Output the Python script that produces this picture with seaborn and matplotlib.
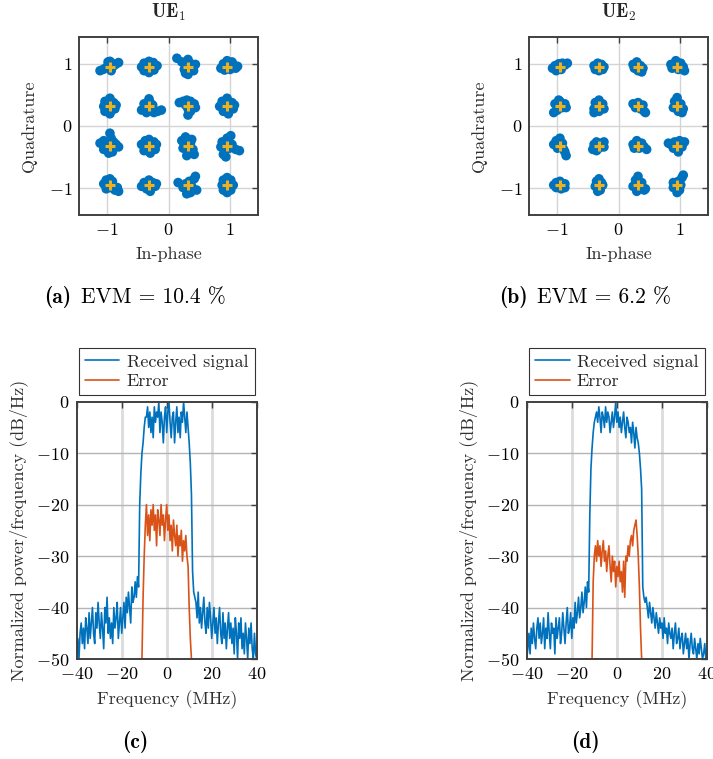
import numpy as np
import pandas as pd
import matplotlib
matplotlib.use("Agg")
import matplotlib.pyplot as plt
from matplotlib.offsetbox import TextArea, HPacker, AnchoredOffsetbox
import seaborn as sns

# ---------------- data ----------------
qam_levels = [-0.949, -0.316, 0.316, 0.949]   # 16-QAM reference levels (I and Q)

# hand-read offsets (in 0.01 units) of received symbols around each reference point,
# clusters ordered row by row (Q from +0.949 to -0.949), columns I from -0.949 to +0.949
ue1_offsets = [
    [(-16,-6),(-11,-4),(-6,-1),(-2,3),(0,-3),(3,6),(5,1),(9,4),(14,7),(-3,8),(0,9),(2,-6)],
    [(-12,0),(-8,6),(-8,-6),(0,9),(0,-9),(7,7),(8,-5),(13,2),(0,0),(-3,3),(4,-2)],
    [(-18,14),(-10,8),(-6,-4),(0,12),(0,-12),(5,5),(9,-6),(12,4),(-4,-10),(3,-2)],
    [(-10,-2),(-6,5),(0,10),(5,-4),(10,4),(14,-2),(17,1),(3,2),(-4,-5),(8,8)],
    [(-10,0),(-8,8),(-8,-8),(0,13),(0,-12),(6,6),(8,-4),(10,2),(-2,4),(3,-6)],
    [(-12,-6),(-8,4),(-4,-10),(0,12),(2,6),(4,-4),(8,-10),(14,-8),(20,-6),(-2,-2),(6,2)],
    [(-14,6),(-8,8),(-2,10),(4,8),(10,4),(12,-2),(0,-4),(4,-8),(0,-14),(-4,2),(6,-2)],
    [(-12,0),(-8,8),(-6,-8),(0,13),(2,-12),(8,6),(10,-4),(-2,2),(4,-4),(12,2)],
    [(-16,4),(-10,8),(-10,-6),(0,20),(2,12),(4,-10),(10,2),(14,-2),(-4,-2),(6,6),(-2,-12)],
    [(-12,2),(-8,-8),(-6,8),(0,10),(2,-12),(8,6),(10,-6),(12,2),(0,0),(-4,-4)],
    [(-10,8),(-8,-4),(-4,14),(0,-10),(4,4),(8,-6),(10,-14),(-2,-16),(6,10),(0,0)],
    [(-10,-2),(-8,6),(-4,-10),(-2,-18),(0,12),(6,16),(8,2),(14,-6),(20,-8),(4,-4),(-6,-14)],
    [(-10,2),(-6,8),(-6,-6),(0,-4),(4,6),(8,-8),(12,-4),(14,-10),(0,10),(-2,0)],
    [(-12,-2),(-8,4),(-4,-6),(0,8),(2,-10),(6,4),(10,-2),(12,2),(0,0)],
    [(-16,4),(-8,-4),(-4,2),(0,-10),(2,6),(6,-2),(10,10),(12,14),(14,-8),(-2,-14),(4,-12),(6,-8)],
    [(-8,0),(-6,8),(-6,-8),(0,12),(0,-12),(6,8),(6,-8),(10,0),(0,0),(2,-4)],
]
ue2_offsets = [
    [(-12,-2),(-8,2),(-6,-6),(-2,5),(2,-4),(4,6),(8,3),(12,6),(0,0)],
    [(-8,2),(-6,-4),(-2,6),(0,-6),(4,4),(6,-4),(8,0),(0,0)],
    [(-8,4),(-6,-2),(-2,8),(0,-6),(4,2),(6,-8),(8,-2),(0,0)],
    [(-10,4),(-8,-2),(-2,10),(2,-4),(6,6),(10,0),(12,-6),(0,2),(4,-2)],
    [(-8,4),(-10,-10),(-4,-6),(0,8),(4,-2),(8,4),(10,-2),(0,0),(-2,10)],
    [(-8,-4),(-6,6),(0,10),(0,-8),(6,4),(8,-4),(0,0),(-8,-10)],
    [(-8,4),(-4,-2),(0,6),(4,-4),(8,2),(10,-8),(12,-10),(0,0)],
    [(-6,-2),(-4,8),(0,14),(2,-8),(6,4),(8,-10),(10,-4),(0,0)],
    [(-10,2),(-6,8),(0,12),(4,4),(6,-6),(8,-10),(10,-16),(-4,-4),(0,0)],
    [(-10,-6),(-8,2),(-4,6),(0,-4),(4,4),(8,-2),(8,6),(0,0),(-4,-8)],
    [(-8,2),(-6,-4),(-2,8),(2,-4),(6,4),(10,-2),(14,-6),(0,0)],
    [(-14,4),(-10,2),(-4,6),(0,-4),(4,8),(8,4),(12,6),(2,-10),(-6,-4),(0,0),(8,-2)],
    [(-10,0),(-6,4),(-6,-4),(0,6),(2,-6),(8,2),(8,-4),(0,0)],
    [(-6,-2),(-4,6),(0,10),(2,-8),(6,0),(-2,-10),(0,0),(4,4)],
    [(-8,-2),(-4,8),(0,14),(0,-6),(6,-2),(10,-8),(-2,-10),(6,4),(12,-6)],
    [(-6,-4),(-6,4),(0,-12),(2,6),(6,0),(8,12),(10,16),(0,0),(4,-8)],
]

# spectra, sampled every 0.5 MHz
freq_start, freq_stop, freq_step = -40.0, 40.0, 0.5
err_start, err_stop = -11.0, 11.0

ue1_received = [
    -49,-46,-50,-45,-43,-47,-44,-48,-42,-44,-47,
    -41,-46,-43,-40,-45,-47,-41,-44,-39,-43,-46,-41,-44,-48,-40,-43,-38,-45,-42,-46,-43,-47,-40,-44,-42,-39,-46,-43,-40,-45,
    -42,-39,-44,-38,-41,-37,-40,-43,-36,-39,-38,-35,-38,-34,
    -36,-20,-14,-10,-8,-5,-3,
    -3,-1,-5,-2,-6,-3,-7,-1,-4,-2,-3,0,-6,-2,-4,-8,-3,-1,-6,-2,0,-4,-7,-3,-2,-8,-4,-1,-6,-3,-7,-2,-4,0,-3,-6,-2,
    -5,-8,-12,-18,-33,-37,-38,
    -39,-42,-37,-43,-40,-44,-41,-38,-43,-45,-40,-44,-39,-42,-46,-43,-40,-45,-42,-47,-43,-40,-45,-47,-41,-46,-43,-48,
    -44,-41,-46,-43,-47,-44,-49,-42,-45,-50,-43,-46,-42,-48,-45,-49,-43,-46,-50,-44,-47,-43,-48,-50,-45,-49,-50,
]
ue1_error = [
    -50,-38,-30,-24,-20,-26,-22,-27,-21,-24,-20,-25,-22,-28,-21,-23,-26,-20,-24,-22,-27,-23,-20,
    -25,-22,-27,-24,-29,-23,-26,-28,-24,-30,-26,-28,-25,-31,-27,-29,-26,-30,-32,-40,-46,-50,
]
ue2_received = [
    -50,-48,-45,-49,-44,-47,-43,-46,-48,-44,-42,
    -46,-43,-47,-45,-42,-48,-44,-46,-41,-45,-48,-43,-45,-44,-49,-42,-46,-44,-42,-47,-45,-41,-44,-47,-43,-40,-45,-44,-41,-46,
    -42,-44,-39,-43,-41,-38,-42,-40,-37,-41,-39,-36,-40,-35,
    -37,-22,-13,-9,-6,-4,-3,
    -2,-4,-1,-3,-6,-2,-3,-5,-1,-4,-2,-3,-6,-4,-2,-5,-3,0,-4,-2,-5,-3,-6,-4,-2,-5,-7,-3,-4,-6,-5,-8,-4,-6,-9,-5,-7,
    -8,-10,-13,-17,-36,-38,-39,
    -38,-40,-42,-39,-41,-43,-40,-42,-44,-41,-43,-45,-42,-44,-43,-46,-42,-45,-44,-47,-43,-45,-46,-44,-48,-45,-43,-47,
    -46,-44,-48,-46,-45,-49,-47,-45,-48,-46,-50,-47,-45,-48,-49,-46,-48,-50,-47,-49,-46,-48,-50,-49,-47,-50,-50,
]
ue2_error = [
    -50,-35,-30,-28,-31,-27,-30,-28,-32,-29,-27,-31,-29,-33,-30,-28,-32,-35,-30,-33,-31,-36,-32,
    -34,-31,-35,-33,-37,-31,-38,-30,-31,-28,-30,-27,-26,-28,-25,-24,-23,-26,-30,-36,-44,-50,
]

titles = [r"$\mathbf{UE}_1$", r"$\mathbf{UE}_2$"]
caption_tags = ["(a)", "(b)", "(c)", "(d)"]
caption_texts = ["EVM = 10.4 %", "EVM = 6.2 %", "", ""]
legend_labels = ["Received signal", "Error"]

# ---------------- style ----------------
sns.set_theme(style="white")
plt.rcParams.update({
    "font.family": ["cmr10"],
    "mathtext.fontset": "cm",
    "axes.formatter.use_mathtext": True,
    "font.size": 13,
    "axes.unicode_minus": True,
})

BLUE = "#0072BD"
ORANGE = "#D95319"
YELLOW = "#EDB120"
FRAME = "#404040"
LABEL = "#303030"
FS = 13

fig = plt.figure(figsize=(7.13, 7.59), dpi=100)
W, H = 713.0, 759.0

def axes_px(left, top, right, bottom):
    return fig.add_axes([left / W, 1 - bottom / H, (right - left) / W, (bottom - top) / H])

def style_frame(ax):
    for sp in ax.spines.values():
        sp.set_color(FRAME)
        sp.set_linewidth(1.4)
    ax.tick_params(direction="in", length=4, width=1, color=FRAME, labelsize=FS,
                   top=True, right=True, pad=5, labelcolor="black")

def caption(xc, yc, tag, text):
    parts = [TextArea(tag, textprops=dict(fontfamily="cmb10", fontsize=15.5, color="black"))]
    if text:
        parts.append(TextArea(text, textprops=dict(fontfamily="cmr10", fontsize=15.5, color="black")))
    box = HPacker(children=parts, align="baseline", pad=0, sep=7)
    anch = AnchoredOffsetbox(loc="center", child=box, frameon=False, pad=0, borderpad=0,
                             bbox_to_anchor=(xc / W, 1 - yc / H), bbox_transform=fig.transFigure)
    fig.add_artist(anch)

const_axes = [axes_px(79, 37, 258, 215), axes_px(529, 37, 708, 215)]
for ax, offs, title in zip(const_axes, [ue1_offsets, ue2_offsets], titles):
    I, Q = [], []
    k = 0
    for q in qam_levels[::-1]:
        for i in qam_levels:
            for dx, dy in offs[k]:
                I.append(i + dx / 100.0)
                Q.append(q + dy / 100.0)
            k += 1
    df = pd.DataFrame({"I": I, "Q": Q})
    ax.grid(True, color="#d4d4d4", linewidth=1.0)
    ax.set_axisbelow(True)
    sns.scatterplot(data=df, x="I", y="Q", ax=ax, color=BLUE, s=48, linewidth=0,
                    edgecolor="none", legend=False, zorder=3)
    ref = pd.DataFrame({"I": [i for q in qam_levels for i in qam_levels],
                        "Q": [q for q in qam_levels for i in qam_levels]})
    sns.scatterplot(data=ref, x="I", y="Q", ax=ax, color=YELLOW, marker="+", s=45,
                    linewidth=2.2, legend=False, zorder=4)
    ax.set_xlim(-1.45, 1.45)
    ax.set_ylim(-1.43, 1.43)
    ax.set_xticks([-1, 0, 1])
    ax.set_yticks([-1, 0, 1])
    ax.set_xlabel("In-phase", fontsize=FS, color=LABEL, labelpad=6)
    ax.set_ylabel("Quadrature", fontsize=FS, color=LABEL, labelpad=8)
    ax.set_title(title, fontsize=13.5, pad=14)
    style_frame(ax)

caption(135, 297, caption_tags[0], caption_texts[0])
caption(585, 297, caption_tags[1], caption_texts[1])

freq = np.arange(freq_start, freq_stop + freq_step / 2, freq_step)
freq_err = np.arange(err_start, err_stop + freq_step / 2, freq_step)

spec_axes = [axes_px(76.7, 401.7, 256.7, 659), axes_px(526.7, 401.7, 707, 659)]
for ax, rx, er in zip(spec_axes, [ue1_received, ue2_received], [ue1_error, ue2_error]):
    for xv in [-20, 0, 20]:
        ax.axvline(xv, color="#dcdcdc", linewidth=2.0, zorder=0)
    for yv in [-40, -30, -20, -10]:
        ax.axhline(yv, color="#b4b4b4", linewidth=1.0, zorder=0)
    sns.lineplot(x=freq, y=np.array(rx, dtype=float), ax=ax, color=BLUE, linewidth=1.2,
                 label=legend_labels[0], zorder=2)
    sns.lineplot(x=freq_err, y=np.array(er, dtype=float), ax=ax, color=ORANGE, linewidth=1.2,
                 label=legend_labels[1], zorder=2)
    ax.set_xlim(-40, 40)
    ax.set_ylim(-50, 0)
    ax.set_xticks([-40, -20, 0, 20, 40])
    ax.set_yticks([-50, -40, -30, -20, -10, 0])
    ax.set_xlabel("Frequency (MHz)", fontsize=FS, color=LABEL, labelpad=6)
    ax.set_ylabel("Normalized power/frequency (dB/Hz)", fontsize=FS, color=LABEL, labelpad=6)
    style_frame(ax)
    leg = ax.legend(loc="lower center", bbox_to_anchor=(0.5, 1.025), frameon=True, fancybox=False,
                    edgecolor="black", fontsize=FS, handlelength=1.9, borderpad=0.35,
                    labelspacing=0.2, handletextpad=0.4, borderaxespad=0)
    leg.get_frame().set_linewidth(0.8)

caption(135, 742, caption_tags[2], caption_texts[2])
caption(585, 742, caption_tags[3], caption_texts[3])

fig.savefig("out.png", dpi=100)
